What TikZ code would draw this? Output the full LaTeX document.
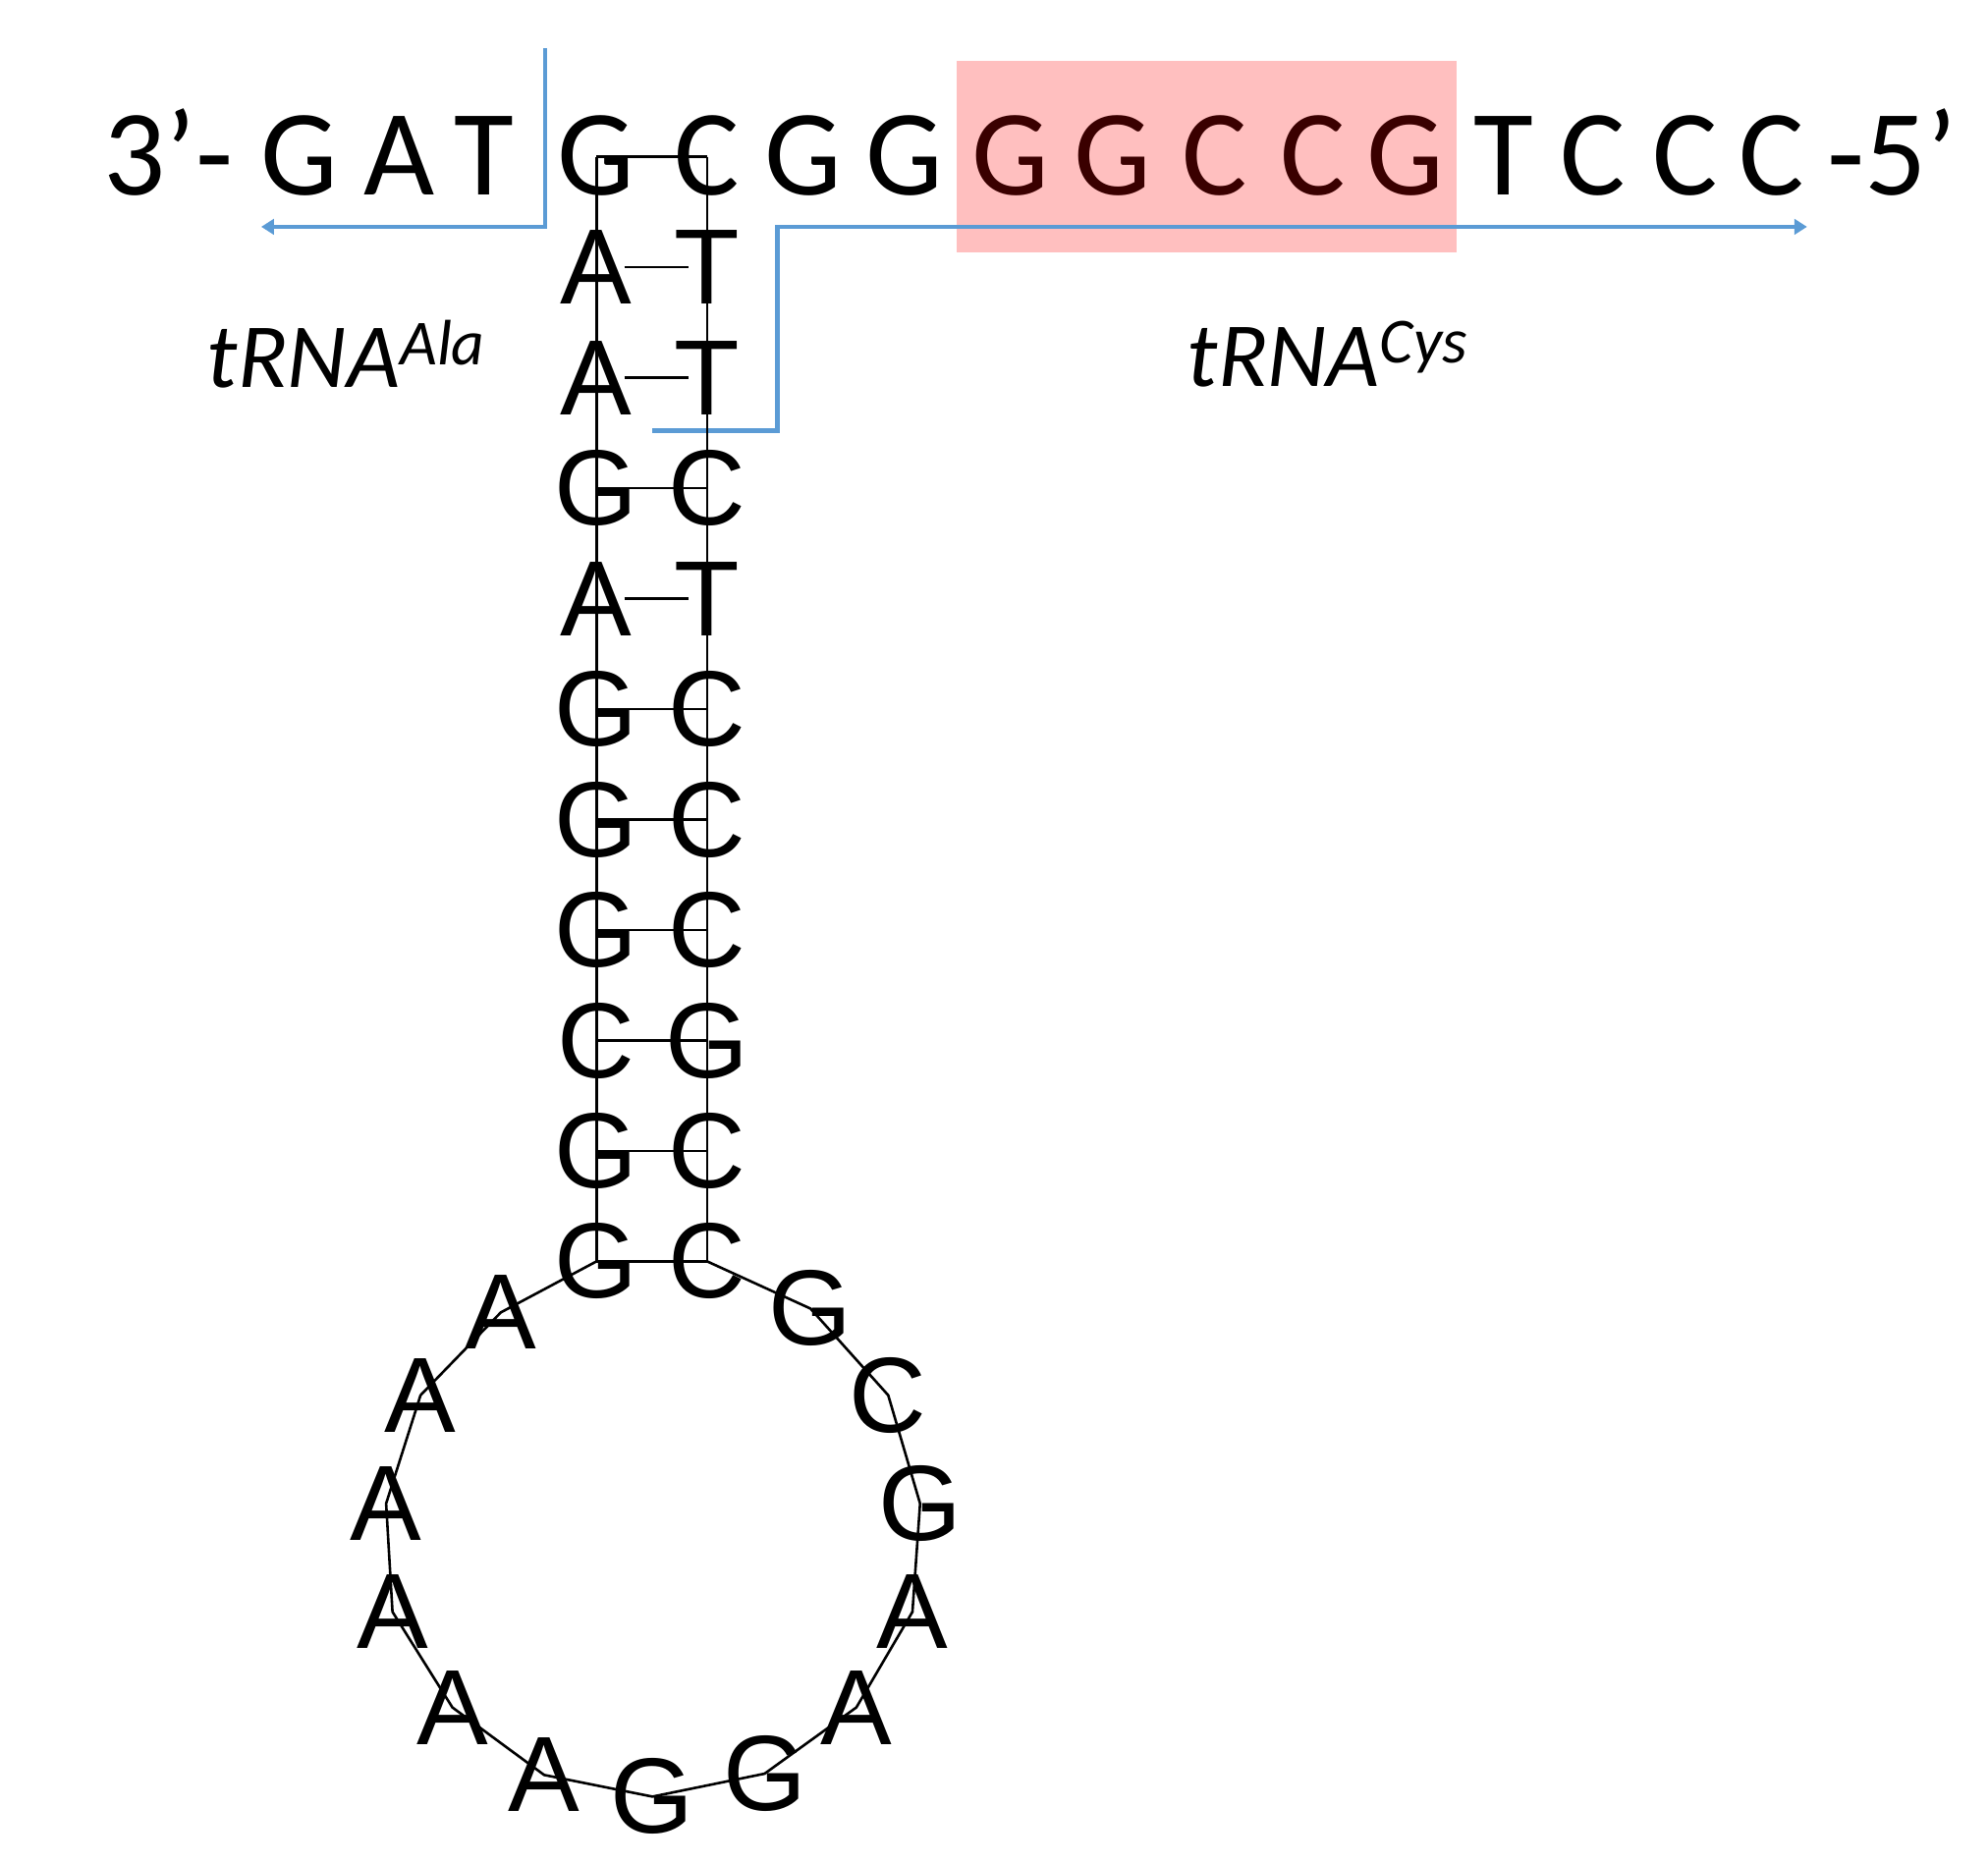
\documentclass[tikz,border=0pt]{standalone}
\usepackage{fontspec}
\setmainfont{Carlito}
\newfontfamily\arl{Liberation Sans}
\usetikzlibrary{arrows.meta}
\definecolor{bl}{HTML}{5B9BD5}
\definecolor{pk}{HTML}{FFBFBF}
\definecolor{dr}{HTML}{3A0000}
\begin{document}
\begin{tikzpicture}[x=0.5pt,y=-0.5pt,
  top/.style={anchor=base,inner sep=0,font=\fontsize{48}{48}\selectfont},
  nt/.style={inner sep=0,font=\arl\fontsize{42}{42}\selectfont},
  bline/.style={draw=bl,line width=1.6pt},
  bond/.style={draw=black,line width=1pt}]
\useasboundingbox (0,0) rectangle (1560,1462);
\fill[pk] (751,48) rectangle (1143,198);
% top sequence
\foreach \t/\x [count=\i] in {3’-/132,G/235,A/313,T/380,G/468,C/555,G/630,G/710,T/1180,C/1250,C/1322,C/1390,-5’/1485}
  \node[top] (s\i) at (\x,153) {\t};
\foreach \t/\x [count=\i] in {G/793,G/873,C/953,C/1030,G/1103}
  \node[top,text=dr] (p\i) at (\x,153) {\t};
% blue lines
\coordinate (b1) at (428,38); \coordinate (b2) at (428,178); \coordinate (b3) at (205,178);
\draw[bline,-{Triangle[width=6pt,length=5pt]}] (b1) -- (b2) -- (b3);
\coordinate (c1) at (512,338); \coordinate (c2) at (610,338); \coordinate (c3) at (610,178); \coordinate (c4) at (1418,178);
\draw[bline,-{Triangle[width=6pt,length=5pt]}] (c1) -- (c2) -- (c3) -- (c4);
% labels
\node[inner sep=0,font=\itshape\fontsize{36}{36}\selectfont] (la) at (272,278) {tRNA\textsuperscript{Ala}};
\node[inner sep=0,font=\itshape\fontsize{36}{36}\selectfont] (lc) at (1042,278) {tRNA\textsuperscript{Cys}};
% stem
\coordinate (L0) at (468,123); \coordinate (R0) at (555,123);
\foreach \l/\r [count=\i] in {A/T,A/T,G/C,A/T,G/C,G/C,G/C,C/G,G/C,G/C}{
  \pgfmathsetmacro\yy{123+86.7*\i}
  \coordinate (L\i) at (468,\yy); \coordinate (R\i) at (555,\yy);
  \node[nt] (nl\i) at (L\i) {\l};
  \node[nt] (nr\i) at (R\i) {\r};
}
\draw[bond] (L0) -- (L10); \draw[bond] (R0) -- (R10);
\draw[bond] (L0) -- (R0);
\foreach \i/\a/\b in {1/490/540,2/490/540,4/490/540,3/468/555,5/468/555,6/468/555,7/468/555,8/468/555,9/468/555,10/468/555}
  \draw[bond] ([xshift=\a*0.5pt-234pt]L\i) -- ([xshift=\b*0.5pt-234pt]L\i);
% loop
\foreach \t/\x/\y [count=\i] in {A/393/1030,A/330/1095,A/303/1180,A/308/1265,A/355/1340,A/427/1393,G/512/1410,G/600/1392,A/672/1340,A/716/1265,G/722/1180,C/697/1095,G/636/1027}
  \node[nt] (q\i) at (\x,\y) {\t};
\draw[bond] (L10) -- (q1.center) -- (q2.center) -- (q3.center) -- (q4.center) -- (q5.center) -- (q6.center) -- (q7.center) -- (q8.center) -- (q9.center) -- (q10.center) -- (q11.center) -- (q12.center) -- (q13.center) -- (R10);
\end{tikzpicture}
\end{document}
